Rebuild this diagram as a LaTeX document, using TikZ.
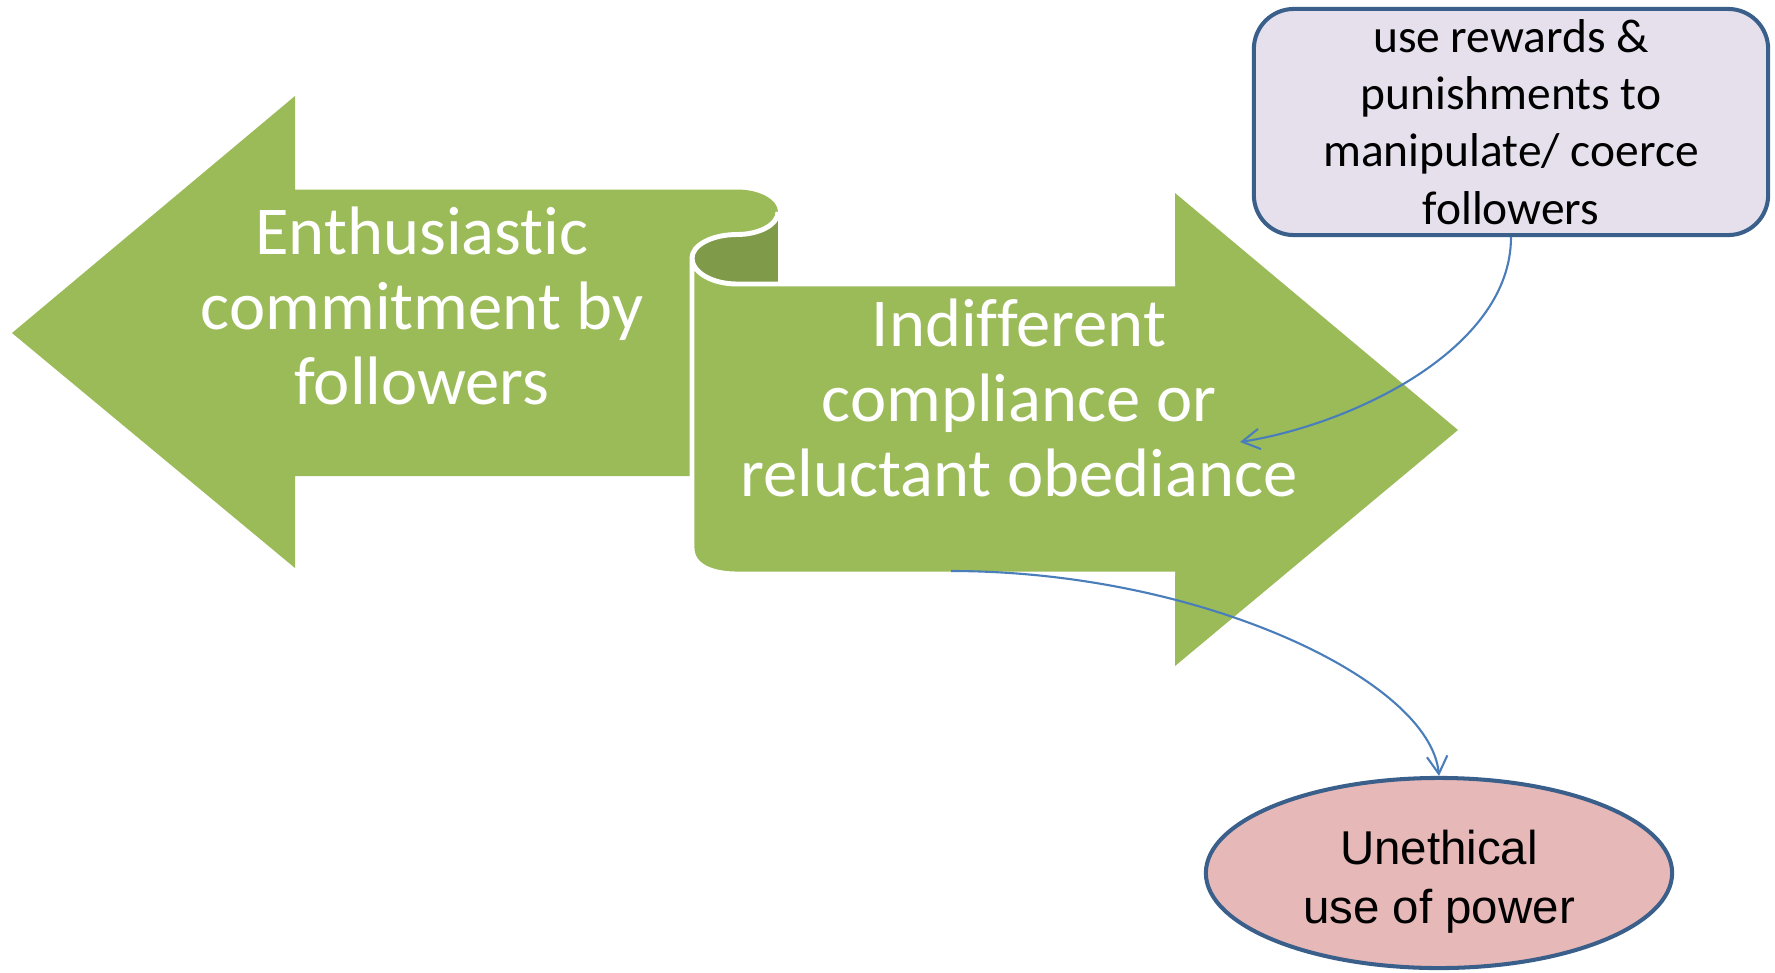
\documentclass[tikz,border=0pt]{standalone}
\usepackage{fontspec}
\setmainfont{Carlito}[Ligatures=NoCommon]
\newfontfamily\arialf{Liberation Sans}
\usetikzlibrary{arrows.meta,shapes.geometric}
\definecolor{lgreen}{HTML}{9BBB59}
\definecolor{dgreen}{HTML}{7F9A48}
\definecolor{boxfill}{HTML}{E5E0EC}
\definecolor{bord}{HTML}{3A5F8B}
\definecolor{ellfill}{HTML}{E6B9B8}
\definecolor{conncol}{HTML}{4A7EBB}
\tikzset{
  gtext/.style={text=white, align=center, inner sep=0pt, font=\fontsize{19.5pt}{21.4pt}\selectfont},
  boxnode/.style={draw=bord, line width=1.15pt, fill=boxfill, rounded corners=0.4cm,
    minimum width=5.14cm, minimum height=2.26cm, inner sep=0pt, align=center,
    font=\fontsize{13.5pt}{16.3pt}\selectfont},
  ellnode/.style={ellipse, draw=bord, line width=1.15pt, fill=ellfill,
    minimum width=4.66cm, minimum height=1.9cm, inner sep=0pt},
  etext/.style={align=center, inner sep=0pt, font=\arialf\fontsize{13.5pt}{16.8pt}\selectfont},
  conn/.style={draw=conncol, line width=0.6pt, -{Straight Barb[length=5pt,width=5.8pt]}},
  wline/.style={draw=white, line width=1.4pt},
}
\begin{document}
\begin{tikzpicture}[x=0.01cm, y=-0.01cm]
\useasboundingbox (0,0) rectangle (1775,972);
% dark inside of the roll
\fill[dgreen] (692,212) rectangle (778,285);
% left arrow
\fill[lgreen] (12,333) -- (295,96) -- (295,189.5) -- (737,189.5)
  arc[start angle=-90, end angle=90, x radius=41, y radius=22.5]
  arc[start angle=-90, end angle=-180, x radius=45, y radius=23.5]
  -- (692,476) -- (295,476) -- (295,568) -- cycle;
% white curl line
\draw[wline] (778,212) arc[start angle=0, end angle=90, x radius=41, y radius=22.5]
  arc[start angle=-90, end angle=-180, x radius=45, y radius=23.5];
% right arrow
\fill[lgreen] (692,258) -- (692,548)
  .. controls (692,566) and (712,574) .. (737,574)
  -- (1175,574) -- (1175,666) -- (1458,430) -- (1175,193) -- (1175,284) -- (737,284)
  arc[start angle=90, end angle=180, x radius=45, y radius=26] -- cycle;
\draw[wline, line join=round] (1175,284) -- (737,284)
  arc[start angle=90, end angle=180, x radius=45, y radius=26] -- (692,548)
  .. controls (692,566) and (712,574) .. (737,574) -- (1175,574);
% texts
\node[gtext] (t1) at (422,306) {Enthusiastic\\commitment by\\followers};
\node[gtext] (t2) at (1019,398) {Indifferent\\compliance or\\reluctant obediance};
% box and ellipse
\node[boxnode] (b) at (1511,122) {use rewards \&\\punishments to\\manipulate/ coerce\\followers};
\node[ellnode] (e) at (1439,873) {};
\node[etext] (et) at (1439,882) {Unethical\\use of power};
% connectors
\coordinate (p1) at (1240,442);
\coordinate (s2) at (951,571);
\draw[conn] (b.south) .. controls (1511,350) and (1350,425) .. (p1);
\draw[conn] (s2) .. controls (1200,571) and (1430,680) .. (e.north);
\end{tikzpicture}
\end{document}
